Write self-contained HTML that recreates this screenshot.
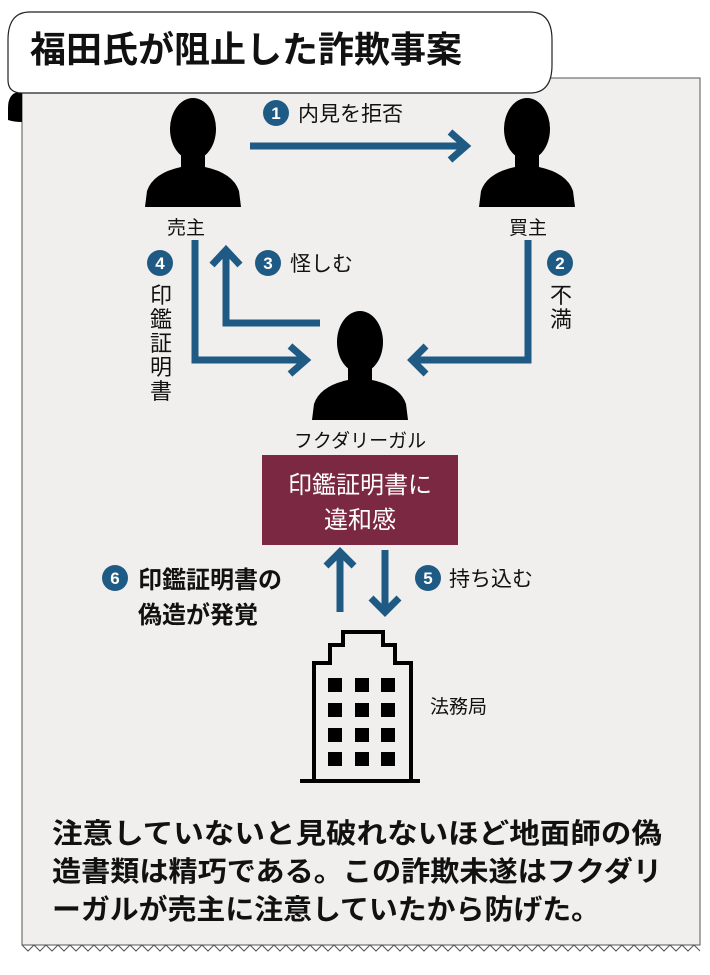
<!DOCTYPE html>
<html><head><meta charset="utf-8"><style>
html,body{margin:0;padding:0;background:#fff;}
body{width:710px;height:970px;overflow:hidden;font-family:"Liberation Sans","Noto Sans CJK JP",sans-serif;}
</style></head><body>
<svg width="710" height="970" viewBox="0 0 710 970" xmlns="http://www.w3.org/2000/svg" font-family="Liberation Sans, Noto Sans CJK JP, sans-serif">
<defs>
<symbol id="person" viewBox="0 0 100 112">
<ellipse cx="50" cy="34" rx="23" ry="31" fill="#000"/>
<path d="M38 58 L38 72 Q10 78 4 96 L2 112 L98 112 L96 96 Q90 78 62 72 L62 58 Z" fill="#000"/>
</symbol>
</defs>
<path d="M22 78 H700 V945 L22 945 Z" fill="#f0efed" stroke="#555" stroke-width="1"/>
<rect x="18" y="946" width="690" height="24" fill="#fff"/>
<polyline points="22,945 28,951 34,945 40,951 46,945 52,951 58,945 64,951 70,945 76,951 82,945 88,951 94,945 100,951 106,945 112,951 118,945 124,951 130,945 136,951 142,945 148,951 154,945 160,951 166,945 172,951 178,945 184,951 190,945 196,951 202,945 208,951 214,945 220,951 226,945 232,951 238,945 244,951 250,945 256,951 262,945 268,951 274,945 280,951 286,945 292,951 298,945 304,951 310,945 316,951 322,945 328,951 334,945 340,951 346,945 352,951 358,945 364,951 370,945 376,951 382,945 388,951 394,945 400,951 406,945 412,951 418,945 424,951 430,945 436,951 442,945 448,951 454,945 460,951 466,945 472,951 478,945 484,951 490,945 496,951 502,945 508,951 514,945 520,951 526,945 532,951 538,945 544,951 550,945 556,951 562,945 568,951 574,945 580,951 586,945 592,951 598,945 604,951 610,945 616,951 622,945 628,951 634,945 640,951 646,945 652,951 658,945 664,951 670,945 676,951 682,945 688,951 694,945 700,951" fill="none" stroke="#555" stroke-width="1"/>
<!-- title curl -->
<path d="M22 92 H18 Q8 94 8 108 L8 120 Q14 122 22 122 Z" fill="#000"/>
<path d="M30 12 H530 Q552 12 552 40 V65 Q552 93 530 93 H22 Q8 93 8 80 V40 Q8 12 30 12 Z" fill="#fff" stroke="#222" stroke-width="1.2"/>
<text x="30" y="62" font-size="36" font-weight="bold" fill="#111">福田氏が阻止した詐欺事案</text>
<use href="#person" x="143" y="95" width="100" height="112"/>
<use href="#person" x="477" y="95" width="100" height="112"/>
<use href="#person" x="310" y="308" width="100" height="112"/>
<text x="186" y="234" font-size="19" text-anchor="middle" fill="#111">売主</text>
<text x="528" y="234" font-size="19" text-anchor="middle" fill="#111">買主</text>
<text x="360" y="447" font-size="19" text-anchor="middle" fill="#111">フクダリーガル</text>
<g stroke="#1e5a84" stroke-width="7" fill="none">
<line x1="250" y1="146" x2="465" y2="146"/>
<polyline points="450,132 466,146 450,160"/>
<polyline points="195,240 195,360 305,360"/>
<polyline points="290,346 306,360 290,374"/>
<polyline points="320,323 226,323 226,250"/>
<polyline points="212,265 226,250 240,265"/>
<polyline points="528,240 528,360 412,360"/>
<polyline points="426,346 412,360 426,374"/>
<line x1="340" y1="612" x2="340" y2="552"/>
<polyline points="326,566 340,552 354,566"/>
<line x1="385" y1="550" x2="385" y2="612"/>
<polyline points="371,598 385,612 399,598"/>
</g>
<g font-weight="bold" fill="#fff" font-size="17" text-anchor="middle">
<circle cx="276" cy="113" r="13" fill="#1e5a84"/><text x="276" y="119">1</text>
<circle cx="560" cy="263" r="13" fill="#1e5a84"/><text x="560" y="269">2</text>
<circle cx="268" cy="263" r="13" fill="#1e5a84"/><text x="268" y="269">3</text>
<circle cx="160" cy="263" r="13" fill="#1e5a84"/><text x="160" y="269">4</text>
<circle cx="428" cy="578" r="13" fill="#1e5a84"/><text x="428" y="584">5</text>
<circle cx="115" cy="578" r="13" fill="#1e5a84"/><text x="115" y="584">6</text>
</g>
<g font-size="21" fill="#111">
<text x="298" y="121">内見を拒否</text>
<text x="290" y="271">怪しむ</text>
<text x="449" y="586">持ち込む</text>
<g text-anchor="middle" font-size="22">
<text x="161" y="303">印</text><text x="161" y="327">鑑</text><text x="161" y="351">証</text><text x="161" y="375">明</text><text x="161" y="399">書</text>
<text x="561" y="303">不</text><text x="561" y="327">満</text>
</g>
</g>
<rect x="262" y="455" width="196" height="90" fill="#7b2942"/>
<text x="360" y="493" font-size="24" fill="#fff" text-anchor="middle">印鑑証明書に</text>
<text x="360" y="528" font-size="24" fill="#fff" text-anchor="middle">違和感</text>
<text x="138" y="588" font-size="24" font-weight="bold" fill="#111">印鑑証明書の</text>
<text x="138" y="623" font-size="24" font-weight="bold" fill="#111">偽造が発覚</text>
<g stroke="#000" stroke-width="4" fill="none">
<path d="M314 780 V663 H330 V645 H343 V632 H383 V645 H395 V663 H411 V780"/>
<line x1="300" y1="781" x2="420" y2="781"/>
</g>
<g fill="#000">
<rect x="328" y="678" width="14" height="14"/><rect x="355" y="678" width="14" height="14"/><rect x="381" y="678" width="14" height="14"/>
<rect x="328" y="703" width="14" height="14"/><rect x="355" y="703" width="14" height="14"/><rect x="381" y="703" width="14" height="14"/>
<rect x="328" y="728" width="14" height="14"/><rect x="355" y="728" width="14" height="14"/><rect x="381" y="728" width="14" height="14"/>
<rect x="328" y="752" width="14" height="14"/><rect x="355" y="752" width="14" height="14"/><rect x="381" y="752" width="14" height="14"/>
</g>
<text x="430" y="713" font-size="19" fill="#111">法務局</text>
<g font-size="28" font-weight="bold" fill="#111">
<text x="52" y="843" textLength="610" lengthAdjust="spacingAndGlyphs">注意していないと見破れないほど地面師の偽</text>
<text x="52" y="881" textLength="610" lengthAdjust="spacingAndGlyphs">造書類は精巧である。この詐欺未遂はフクダリ</text>
<text x="52" y="919" textLength="548" lengthAdjust="spacingAndGlyphs">ーガルが売主に注意していたから防げた。</text>
</g>
</svg>
</body></html>
